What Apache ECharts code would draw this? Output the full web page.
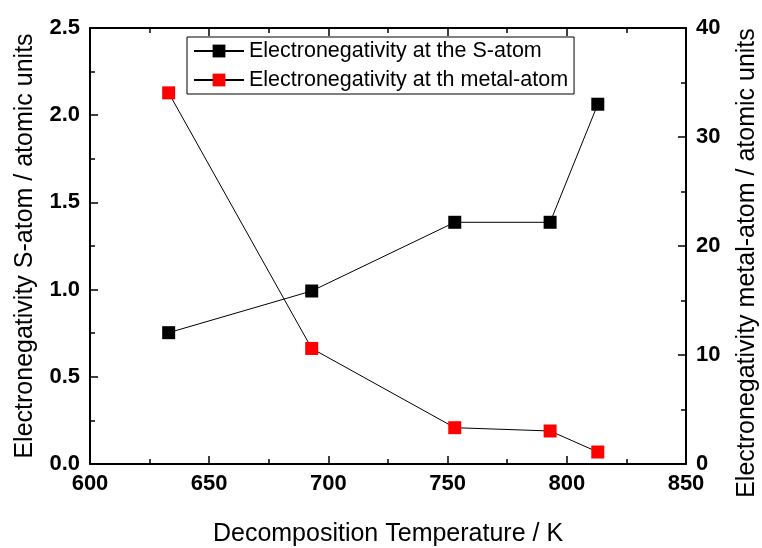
<!DOCTYPE html>
<html>
<head>
<meta charset="utf-8">
<script src="https://cdn.jsdelivr.net/npm/echarts@6/dist/echarts.min.js"></script>
<style>html,body{margin:0;padding:0;background:#fff;}#c{width:762px;height:548px;}</style>
</head>
<body>
<div id="c"></div>
<script>
const temperatures = [633, 693, 753, 793, 813];
const sAtomValues = [0.753, 0.992, 1.386, 1.386, 2.063];
const metalAtomValues = [34.05, 10.6, 3.33, 3.03, 1.1];
const seriesNames = ['Electronegativity at the S-atom', 'Electronegativity at th metal-atom'];
const xTitle = 'Decomposition Temperature / K';
const yLeftTitle = 'Electronegativity S-atom / atomic units';
const yRightTitle = 'Electronegativity metal-atom / atomic units';

const chart = echarts.init(document.getElementById('c'));
const font = 'Liberation Sans, Arial, sans-serif';
const tickLabel = {color:'#000', fontFamily:font, fontSize:22, fontWeight:'bold'};
const axisLine = {show:true, onZero:false, lineStyle:{color:'#000', width:2}};
const axisTick = {show:true, inside:true, length:8, lineStyle:{color:'#000', width:1.5}};
const minorTick = {show:true, splitNumber:2, length:5, lineStyle:{color:'#000', width:1.5}};
const titleStyle = {color:'#000', fontFamily:font, fontSize:25};

chart.setOption({
  animation:false,
  backgroundColor:'#fff',
  grid:{left:90, right:76, top:28, bottom:84, outerBoundsMode:'none', containLabel:false},
  legend:{
    left:187, top:37, orient:'vertical',
    borderColor:'#000', borderWidth:1, padding:[3,6,3,6],
    itemGap:7, itemWidth:50, itemHeight:16,
    textStyle:{color:'#000', fontFamily:font, fontSize:21.5},
    data:seriesNames
  },
  xAxis:[{
    type:'value', min:600, max:850, interval:50, position:'bottom',
    axisLine, axisTick, minorTick, splitLine:{show:false},
    axisLabel:Object.assign({margin:9}, tickLabel),
    name:xTitle, nameLocation:'middle', nameGap:58,
    nameTextStyle:titleStyle
  },{
    type:'value', min:600, max:850, interval:50, position:'top',
    axisLine, axisTick, minorTick, splitLine:{show:false},
    axisLabel:{show:false}
  }],
  yAxis:[{
    type:'value', min:0, max:2.5, interval:0.5, position:'left',
    axisLine, axisTick, minorTick, splitLine:{show:false},
    axisLabel:Object.assign({margin:10, formatter:v=>v.toFixed(1)}, tickLabel),
    name:yLeftTitle, nameLocation:'middle', nameGap:52,
    nameTextStyle:titleStyle
  },{
    type:'value', min:0, max:40, interval:10, position:'right',
    axisLine, axisTick, minorTick, splitLine:{show:false},
    axisLabel:Object.assign({margin:10}, tickLabel),
    name:yRightTitle, nameLocation:'middle', nameGap:49,
    nameTextStyle:Object.assign({padding:[0,34,0,0]}, titleStyle)
  }],
  series:[{
    name:seriesNames[0], type:'line', xAxisIndex:0, yAxisIndex:0,
    data:temperatures.map((t,i)=>[t, sAtomValues[i]]),
    symbol:'rect', symbolSize:13,
    itemStyle:{color:'#000', borderWidth:0},
    lineStyle:{color:'#000', width:1}
  },{
    name:seriesNames[1], type:'line', xAxisIndex:0, yAxisIndex:1,
    data:temperatures.map((t,i)=>[t, metalAtomValues[i]]),
    symbol:'rect', symbolSize:13,
    itemStyle:{color:'#ff0000', borderWidth:0},
    lineStyle:{color:'#000', width:1}
  }]
});
</script>
</body>
</html>
